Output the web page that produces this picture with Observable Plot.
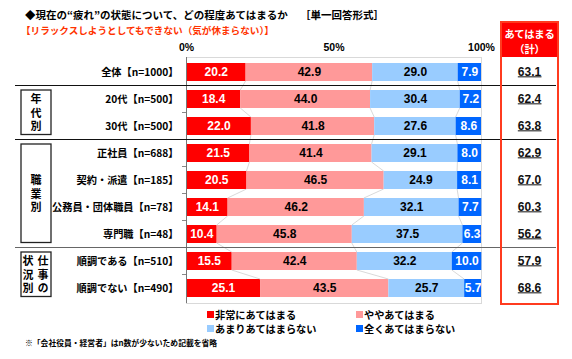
<!DOCTYPE html>
<html><head><meta charset="utf-8">
<script src="https://cdn.jsdelivr.net/npm/d3@7"></script>
<script src="https://cdn.jsdelivr.net/npm/@observablehq/plot@0.6"></script>
<style>
body{margin:0;background:#fff;}
#wrap{position:relative;width:572px;height:359px;overflow:hidden;font-family:'Noto Sans CJK JP',sans-serif;font-weight:bold;color:#000;}
#wrap svg{position:absolute;left:0;top:0;}
.t{position:absolute;white-space:nowrap;line-height:14px;}
</style></head><body><div id="wrap"></div>
<script>
const labels = ["全体【n=1000】","20代【n=500】","30代【n=500】","正社員【n=688】","契約・派遣【n=185】","公務員・団体職員【n=78】","専門職【n=48】","順調である【n=510】","順調でない【n=490】"];
const series = ["非常にあてはまる","ややあてはまる","あまりあてはまらない","全くあてはまらない"];
const v1 = [20.2,18.4,22.0,21.5,20.5,14.1,10.4,15.5,25.1];
const v2 = [42.9,44.0,41.8,41.4,46.5,46.2,45.8,42.4,43.5];
const v3 = [29.0,30.4,27.6,29.1,24.9,32.1,37.5,32.2,25.7];
const v4 = [7.9,7.2,8.6,8.0,8.1,7.7,6.3,10.0,5.7];
const totals = [63.1,62.4,63.8,62.9,67.0,60.3,56.2,57.9,68.6];
const xTicks = [0,50,100];
const colors = ["#FF0000","#FF9999","#99CCFF","#0066FF"];
const groups = [
  {cols:["年代別"], from:1, to:2},
  {cols:["職業別"], from:3, to:6},
  {cols:["仕事の","状況別"], from:7, to:8}
];
const separatorsBefore = [1,3,7];

const vals = [v1,v2,v3,v4];
const rows = labels.flatMap((l,i)=>vals.map((arr,k)=>({label:l, series:series[k], value:arr[i], k})));
const totalRows = labels.map((l,i)=>({label:l, total:totals[i]}));
const numFont = "'Liberation Sans', Arial, sans-serif";

const chart = Plot.plot({
  width:572, height:359,
  marginTop:57, marginBottom:56, marginLeft:186, marginRight:91,
  style:{fontFamily:"'Noto Sans CJK JP', sans-serif", fontSize:"10.2px", fontWeight:"bold", color:"#000", background:"transparent"},
  x:{domain:[0,100]},
  y:{domain:labels, paddingInner:0.34, paddingOuter:0.17},
  color:{domain:series, range:colors},
  marks:[
    Plot.frame({stroke:"#d9d9d9"}),
    Plot.axisX({anchor:"top", ticks:xTicks, tickSize:0, tickPadding:7, tickFormat:d=>d+"%", label:null, fontFamily:numFont, fontSize:10.5, fontWeight:"bold"}),
    Plot.axisY({anchor:"left", tickSize:0, tickPadding:8, label:null, fontSize:10.2, fontWeight:"bold"}),
    Plot.barX(rows, {x:"value", y:"label", fill:"series", z:"series"}),
    Plot.text(rows, Plot.stackX({x:"value", y:"label", z:"series", text:d=>(d.k===0||d.k===3)?d.value.toFixed(1):null, fill:"white", fontFamily:numFont, fontSize:12, fontWeight:"bold"})),
    Plot.text(rows, Plot.stackX({x:"value", y:"label", z:"series", text:d=>(d.k===1||d.k===2)?d.value.toFixed(1):null, fill:"black", fontFamily:numFont, fontSize:12, fontWeight:"bold"})),
    Plot.text(totalRows, {y:"label", text:d=>d.total.toFixed(1), frameAnchor:"right", dx:48, textAnchor:"middle", fill:"#111", fontFamily:numFont, fontSize:12, fontWeight:"bold"}),
    Plot.ruleX([0], {stroke:"#777", strokeWidth:1})
  ]
});

const wrap = document.getElementById("wrap");
wrap.appendChild(chart);

// decorations via the chart's scales
const svg = d3.select(chart);
const xs = chart.scale("x"), ys = chart.scale("y");
const step = ys.step, bw = ys.bandwidth;
const slotTop = i => ys.apply(labels[i]) - (step - bw)/2;
const x0 = xs.apply(0);

// underline totals (last text mark)
const sr = chart.getBoundingClientRect();
const textGroups = chart.querySelectorAll('g[aria-label="text"]');
if (textGroups.length) {
  const tg = textGroups[textGroups.length-1];
  tg.querySelectorAll("text").forEach(el=>{
    const b = el.getBoundingClientRect();
    const yU = b.bottom - sr.top - 2.5;
    svg.append("line").attr("x1",b.left - sr.left).attr("x2",b.right - sr.left)
      .attr("y1",yU).attr("y2",yU)
      .attr("stroke","#111").attr("stroke-width",1);
  });
}

// connector lines between bars
const cum = labels.map((_,i)=>[v1[i], v1[i]+v2[i], v1[i]+v2[i]+v3[i]]);
const conn = svg.append("g").attr("stroke","#cfcfcf").attr("stroke-width",0.8);
for (let i=0;i<labels.length-1;i++){
  for (let j=0;j<3;j++){
    conn.append("line")
      .attr("x1", xs.apply(cum[i][j])).attr("y1", ys.apply(labels[i])+bw)
      .attr("x2", xs.apply(cum[i+1][j])).attr("y2", ys.apply(labels[i+1]));
  }
}
// y-axis ticks at row boundaries
const tk = svg.append("g").attr("stroke","#888").attr("stroke-width",1);
for (let i=1;i<labels.length;i++){
  tk.append("line").attr("x1",x0-4).attr("x2",x0).attr("y1",slotTop(i)).attr("y2",slotTop(i));
}
// separators
separatorsBefore.forEach((i,n)=>{
  svg.append("line").attr("x1",15).attr("x2",556)
    .attr("y1",slotTop(i)).attr("y2",slotTop(i))
    .attr("stroke", n===2?"#666":"#111").attr("stroke-width",1.2);
});
// group boxes with vertical text
groups.forEach(g=>{
  const top = slotTop(g.from)+4.5;
  const bottom = slotTop(g.to)+step-5;
  svg.append("rect").attr("x",21).attr("y",top).attr("width",30).attr("height",bottom-top)
    .attr("fill","none").attr("stroke","#222").attr("stroke-width",1.3);
  const cy = (top+bottom)/2 + 1.5;
  const nc = g.cols.length;
  g.cols.forEach((col,c)=>{
    const cx = nc===1 ? 36 : (c===0 ? 43 : 28);
    svg.append("text").attr("x",cx).attr("y",cy)
      .attr("text-anchor","middle")
      .style("writing-mode","vertical-rl")
      .style("letter-spacing","2.8px")
      .attr("font-size","11px").attr("font-weight","bold").text(col);
  });
});

// HTML texts
function addText(txt, left, top, css){
  const d = document.createElement("div");
  d.className = "t"; d.textContent = txt;
  d.style.left = left+"px"; d.style.top = top+"px";
  Object.assign(d.style, css||{});
  wrap.appendChild(d);
  return d;
}
addText("◆現在の“疲れ”の状態について、どの程度あてはまるか", 25, 8, {fontSize:"10.5px"});
addText("［単一回答形式］", 300, 8, {fontSize:"10.5px"});
addText("【リラックスしようとしてもできない（気が休まらない）】", 21, 23, {fontSize:"9.6px", color:"#ff3300"});
addText("※「会社役員・経営者」はn数が少ないため記載を省略", 25, 336, {fontSize:"7.8px"});

// total box
const box = document.createElement("div");
Object.assign(box.style,{position:"absolute",left:"500px",top:"21px",width:"55px",height:"280px",border:"2px solid #ff3b1f"});
wrap.appendChild(box);
const head = document.createElement("div");
Object.assign(head.style,{position:"absolute",left:"0",top:"0",width:"55px",height:"34px",background:"#ff0000",color:"#fff",fontSize:"10.3px",letterSpacing:"-0.2px",textAlign:"center",lineHeight:"15px",paddingTop:"3px",boxSizing:"border-box"});
head.innerHTML = "あてはまる<br>（計）";
box.appendChild(head);

// legend
const legPos = [[207,314.5],[356,314.5],[207,328.5],[356,328.5]];
series.forEach((s,k)=>{
  const [lx,ly] = legPos[k];
  const sq = document.createElement("div");
  Object.assign(sq.style,{position:"absolute",left:lx+"px",top:(ly-3.5)+"px",width:"7px",height:"7px",background:colors[k]});
  wrap.appendChild(sq);
  addText(s, lx+8, ly-6, {fontSize:"10.2px", lineHeight:"12px"});
});
</script></body></html>
